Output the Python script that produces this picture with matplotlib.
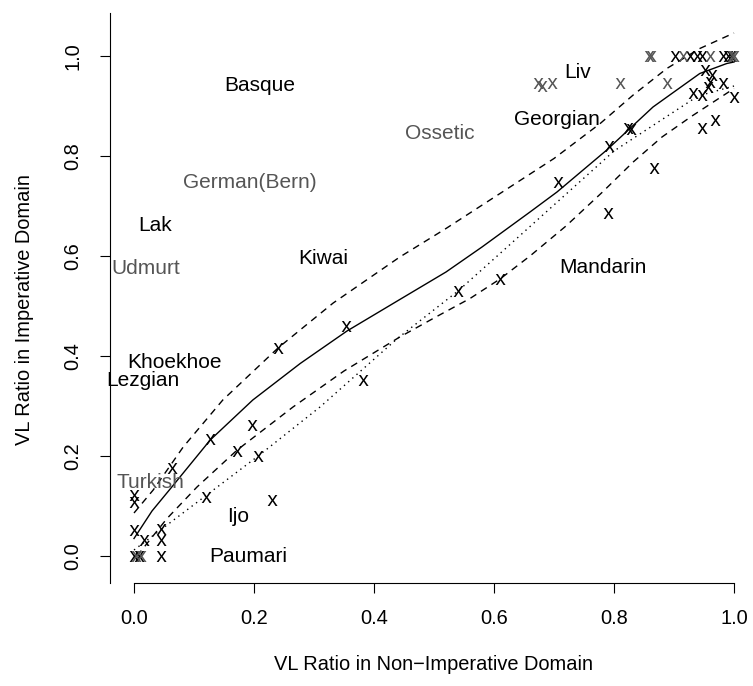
import numpy as np
import matplotlib
matplotlib.use("Agg")
import matplotlib.pyplot as plt
from matplotlib.textpath import TextPath
from matplotlib.font_manager import FontProperties
from matplotlib.path import Path

plt.rcParams['font.family'] = ['Liberation Sans', 'DejaVu Sans']

# points (VL ratio non-imperative, VL ratio imperative)
black_x = [0.0, 0.008, 0.045, 0.0, 0.017, 0.045, 0.045, 0.0, 0.0, 0.12, 0.063, 0.127,
           0.197, 0.171, 0.207, 0.23, 0.24, 0.353, 0.382, 0.54, 0.61, 0.707, 0.79,
           0.792, 0.823, 0.828, 0.867, 0.947, 0.968, 1.0, 0.982, 0.952, 0.963, 0.932,
           0.947, 0.957, 0.96, 0.902, 0.927, 0.938, 0.947, 0.982, 0.99, 0.995]
black_y = [0.0, 0.0, 0.0, 0.052, 0.032, 0.054, 0.032, 0.122, 0.108, 0.118, 0.176, 0.234,
           0.262, 0.21, 0.2, 0.112, 0.416, 0.46, 0.352, 0.53, 0.554, 0.748, 0.686,
           0.82, 0.856, 0.854, 0.776, 0.856, 0.872, 0.918, 0.946, 0.972, 0.962, 0.926,
           0.922, 0.938, 0.948, 1.0, 1.0, 1.0, 1.0, 1.0, 1.0, 1.0]
gray_x = [0.004, 0.012, 0.673, 0.68, 0.697, 0.81, 0.888, 0.858, 0.862, 0.915, 0.96, 0.997, 1.0]
gray_y = [0.0, 0.0, 0.946, 0.94, 0.946, 0.946, 0.946, 1.0, 1.0, 1.0, 1.0, 1.0, 1.0]

# fitted curve and bands, traced
fit_x = [0.0, 0.03, 0.063, 0.127, 0.198, 0.277, 0.355, 0.443, 0.52, 0.58, 0.66, 0.705,
         0.788, 0.865, 0.943, 0.988, 1.0]
fit_y = [0.035, 0.09, 0.138, 0.232, 0.312, 0.385, 0.45, 0.513, 0.568, 0.618, 0.688, 0.728,
         0.812, 0.898, 0.965, 0.985, 0.988]
up_x = [0.0, 0.032, 0.082, 0.148, 0.24, 0.332, 0.443, 0.52, 0.61, 0.7, 0.777, 0.832, 0.888, 0.943, 1.0]
up_y = [0.086, 0.132, 0.218, 0.312, 0.416, 0.506, 0.598, 0.655, 0.725, 0.795, 0.865, 0.922, 0.975, 1.015, 1.046]
lo_x = [0.005, 0.055, 0.105, 0.172, 0.265, 0.35, 0.443, 0.5, 0.56, 0.61, 0.66, 0.72,
        0.78, 0.832, 0.88, 0.93, 1.0]
lo_y = [0.0, 0.075, 0.138, 0.212, 0.298, 0.37, 0.438, 0.476, 0.515, 0.554, 0.6, 0.66,
        0.727, 0.788, 0.838, 0.88, 0.935]
dot_x = [0.0, 0.13, 0.207, 0.31, 0.44, 0.54, 0.61, 0.8, 0.87, 0.94, 1.0]
dot_y = [0.012, 0.13, 0.2, 0.298, 0.436, 0.53, 0.605, 0.81, 0.865, 0.92, 0.94]

# language labels
lang_black = ['Basque', 'Liv', 'Georgian', 'Lak', 'Kiwai', 'Mandarin', 'Khoekhoe', 'Lezgian', 'Ijo', 'Paumari']
lang_black_x = [0.21, 0.74, 0.705, 0.035, 0.315, 0.782, 0.067, 0.015, 0.173, 0.19]
lang_black_y = [0.942, 0.968, 0.874, 0.662, 0.596, 0.578, 0.388, 0.352, 0.078, 0.0]
lang_gray = ['German(Bern)', 'Ossetic', 'Udmurt', 'Turkish']
lang_gray_x = [0.193, 0.51, 0.02, 0.027]
lang_gray_y = [0.748, 0.846, 0.576, 0.148]

GRAY = '#555555'

fp = FontProperties(family='Liberation Sans')
tp = TextPath((0, 0), 'x', size=10, prop=fp)
v = tp.vertices
xmark = Path(v - (v.min(0) + v.max(0)) / 2, tp.codes)

fig = plt.figure(figsize=(7.53, 6.86), dpi=100)
W, H = 753, 686
ax = fig.add_axes([110 / W, (H - 583) / H, (W - 110) / W, (583 - 13) / H])

ax.plot(fit_x, fit_y, color='black', lw=1.0)
ax.plot(up_x, up_y, color='black', lw=1.0, ls=(0, (5, 4)))
ax.plot(lo_x, lo_y, color='black', lw=1.0, ls=(0, (5, 4)))
ax.plot(dot_x, dot_y, color='black', lw=1.0, ls=(0, (1, 3)))

ax.scatter(black_x, black_y, marker=xmark, s=62, c='black', linewidths=0, zorder=3)
ax.scatter(gray_x, gray_y, marker=xmark, s=62, c=GRAY, linewidths=0, zorder=3)

for t, x, y in zip(lang_black, lang_black_x, lang_black_y):
    ax.text(x, y, t, ha='center', va='center', fontsize=15, color='black')
for t, x, y in zip(lang_gray, lang_gray_x, lang_gray_y):
    ax.text(x, y, t, ha='center', va='center', fontsize=15, color=GRAY)

ax.set_xlim(-0.04, (W - 134) / 600)
ax.set_ylim((556 - 583) / 500, (556 - 13) / 500)
ax.set_xticks(np.arange(0, 1.01, 0.2))
ax.set_yticks(np.arange(0, 1.01, 0.2))
ax.set_xticklabels(['0.0', '0.2', '0.4', '0.6', '0.8', '1.0'])
ax.set_yticklabels(['0.0', '0.2', '0.4', '0.6', '0.8', '1.0'], rotation=90, va='center')
ax.spines['top'].set_visible(False)
ax.spines['right'].set_visible(False)
ax.spines['bottom'].set_bounds(0, 1)
ax.tick_params(axis='both', length=7, width=0.8, labelsize=14.4)
ax.tick_params(axis='x', pad=12)
ax.tick_params(axis='y', pad=13)

fig.text(25 / W, 1 - 310 / H, 'VL Ratio in Imperative Domain', rotation=90,
         ha='center', va='center', fontsize=14.4)
fig.text(433 / W, 1 - 664 / H, 'VL Ratio in Non\u2212Imperative Domain',
         ha='center', va='center', fontsize=14.4)

fig.savefig('out.png', dpi=100)
